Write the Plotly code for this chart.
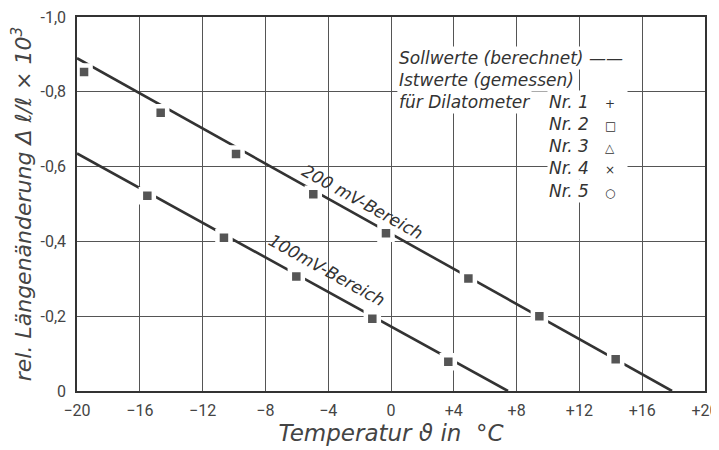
import plotly.graph_objects as go

# Sollwerte (berechnet) - lines
line_200_x = [-20, 17.9]
line_200_y = [-0.89, 0.0]
line_100_x = [-20, 7.45]
line_100_y = [-0.635, 0.0]

# Istwerte (gemessen)
meas_200_x = [-19.55, -14.67, -9.87, -4.95, -0.32, 4.93, 9.45, 14.31]
meas_200_y = [-0.853, -0.744, -0.634, -0.526, -0.422, -0.301, -0.200, -0.085]
meas_100_x = [-15.52, -10.64, -6.03, -1.19, 3.65]
meas_100_y = [-0.522, -0.410, -0.306, -0.193, -0.078]

x_ticks = [-20, -16, -12, -8, -4, 0, 4, 8, 12, 16, 20]
x_labels = ["\u221220", "\u221216", "\u221212", "\u22128", "\u22124", "0",
            "+4", "+8", "+12", "+16", "+20"]
y_ticks = [0, -0.2, -0.4, -0.6, -0.8, -1.0]
y_labels = ["0", "-0,2", "-0,4", "-0,6", "-0,8", "-1,0"]

ink = "#333333"
font_fam = "DejaVu Sans"

fig = go.Figure()

for lx, ly in [(line_200_x, line_200_y), (line_100_x, line_100_y)]:
    fig.add_trace(go.Scatter(x=lx, y=ly, mode="lines",
                             line=dict(color=ink, width=2.6),
                             hoverinfo="skip", showlegend=False))

# white ring around each square leaves the small gap in the line
for mx, my in [(meas_200_x, meas_200_y), (meas_100_x, meas_100_y)]:
    fig.add_trace(go.Scatter(x=mx, y=my, mode="markers",
                             marker=dict(symbol="square", size=13, color="#555555",
                                         line=dict(color="white", width=4.5)),
                             showlegend=False))

# labels along the lines
lbl_font = dict(family=font_fam, size=17, color=ink, style="italic")
fig.add_annotation(x=-1.8, y=-0.492, yshift=5, text="200 mV-Bereich", showarrow=False,
                   textangle=29, font=lbl_font)
fig.add_annotation(x=-4.1, y=-0.318, yshift=2, text="100mV-Bereich", showarrow=False,
                   textangle=29, font=lbl_font)

# key (drawn as text, as in the original)
lg_font = dict(family=font_fam, size=17, color=ink, style="italic")


def px_to_paper(px, py):
    # screen pixels of the plot frame: x 77..705, y 17..391
    return (px - 77) / 628, 1 - (py - 17) / 374


key_rows = [
    ("Sollwerte (berechnet) \u2014\u2014", 397, 58),
    ("Istwerte (gemessen)", 397, 80),
    ("f\u00fcr Dilatometer", 397, 102),
]
for txt, px, py in key_rows:
    kx, ky = px_to_paper(px, py)
    fig.add_annotation(x=kx, y=ky, xref="paper", yref="paper",
                       text=txt, showarrow=False, xanchor="left", yanchor="middle",
                       bgcolor="white", font=lg_font)

nr_labels = ["Nr. 1", "Nr. 2", "Nr. 3", "Nr. 4", "Nr. 5"]
nr_symbols = ["+", "\u25a1", "\u25b3", "\u00d7", "\u25cb"]
nr_y = [102, 124, 146, 168, 191]
for lab, sym, py in zip(nr_labels, nr_symbols, nr_y):
    kx, ky = px_to_paper(547, py)
    fig.add_annotation(x=kx, y=ky, xref="paper", yref="paper",
                       text=lab + "   <span style='font-size:12px;font-style:normal'>"
                       + sym + "</span>  ",
                       showarrow=False, xanchor="left",
                       yanchor="middle", bgcolor="white", font=lg_font)

tick_font = dict(family="Roboto", size=16, color="#444444")

# the page body adds 8px around the plot div, so the figure is 8px smaller
fig.update_layout(
    width=711, height=442,
    margin=dict(l=69, r=14, t=9, b=59),
    plot_bgcolor="white", paper_bgcolor="white",
    font=dict(family=font_fam, color=ink),
    xaxis=dict(
        range=[-20, 20], tickvals=x_ticks, ticktext=x_labels, automargin=False,
        showgrid=True, gridcolor="#555555", gridwidth=1,
        showline=True, linecolor=ink, linewidth=1.5, mirror=True,
        zeroline=False, ticks="", ticklabeloverflow="allow", ticklabelstandoff=4,
        tickfont=tick_font,
        title=dict(text="Temperatur \u03d1 in  \u00b0C", standoff=3,
                   font=dict(size=23, color="#444444", style="italic")),
    ),
    yaxis=dict(
        range=[0, -1.0], tickvals=y_ticks, ticktext=y_labels, automargin=False,
        showgrid=True, gridcolor="#555555", gridwidth=1,
        showline=True, linecolor=ink, linewidth=1.5, mirror=True,
        zeroline=False, ticks="", ticklabelstandoff=6, ticklabeloverflow="allow",
        tickfont=tick_font,
        title=dict(text="rel. L\u00e4ngen\u00e4nderung \u0394 \u2113/\u2113 \u00d7 10<sup>3</sup>",
                   standoff=4, font=dict(size=22, color="#444444", style="italic")),
    ),
)

fig.write_html("out.html")
